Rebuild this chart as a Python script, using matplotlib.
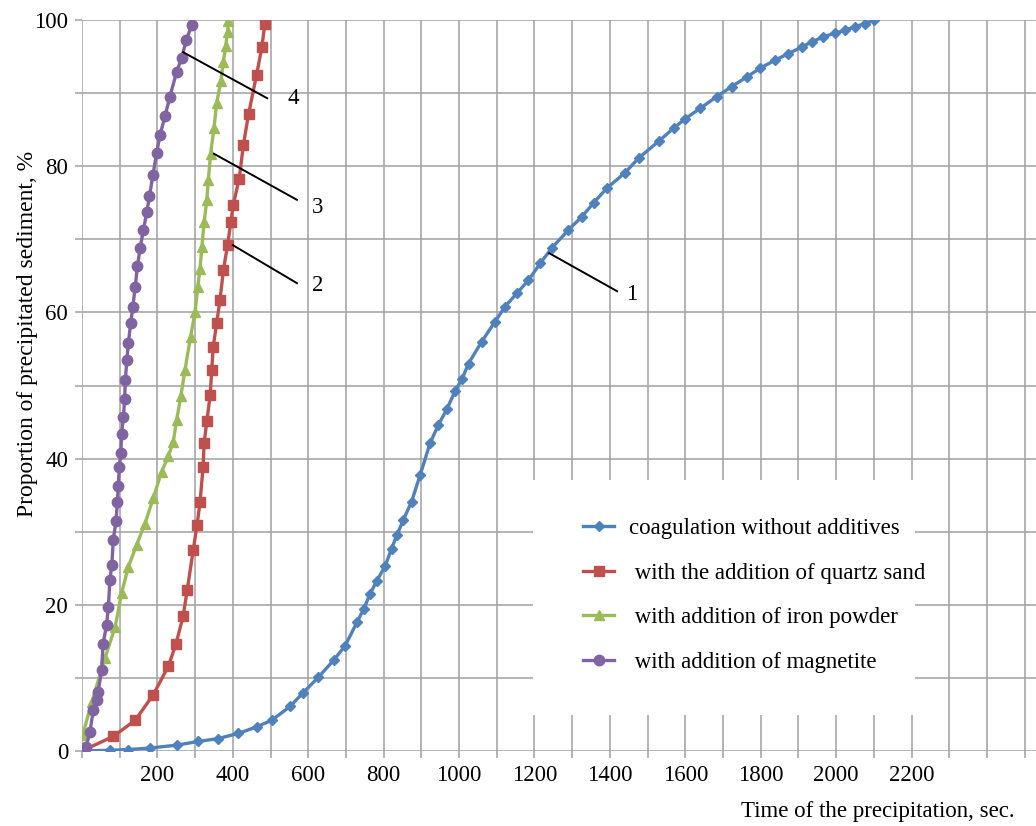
import matplotlib
matplotlib.use('Agg')
import matplotlib.pyplot as plt
from matplotlib.patches import Rectangle

plt.rcParams['font.family'] = ['Liberation Serif', 'DejaVu Serif']

# 1 - coagulation without additives
t_blue = [0, 74, 123, 180, 251, 308, 361, 414, 463, 503, 552, 587, 627, 667, 698, 729, 747,
          764, 782, 804, 821, 835, 852, 874, 897, 923, 945, 968, 990, 1008, 1025, 1060, 1095,
          1122, 1153, 1184, 1215, 1246, 1290, 1326, 1357, 1392, 1440, 1476, 1529, 1569, 1600,
          1639, 1683, 1723, 1763, 1798, 1838, 1873, 1909, 1935, 1966, 1997, 2024, 2050, 2077, 2101]
p_blue = [0, 0.1, 0.2, 0.4, 0.8, 1.3, 1.7, 2.4, 3.3, 4.2, 6.1, 8.0, 10.1, 12.4, 14.4, 17.6, 19.4,
          21.5, 23.3, 25.3, 27.7, 29.5, 31.6, 34.1, 37.8, 42.1, 44.6, 46.8, 49.3, 50.9, 53.0, 56.0, 58.7,
          60.8, 62.6, 64.4, 66.7, 68.8, 71.3, 73.1, 75.0, 77.0, 79.1, 81.1, 83.4, 85.2, 86.5,
          87.9, 89.5, 90.9, 92.2, 93.4, 94.5, 95.4, 96.3, 97.0, 97.7, 98.2, 98.6, 99.1, 99.5, 100]

# 2 - quartz sand
t_red = [0, 83, 141, 189, 229, 249, 268, 279, 295, 305, 313, 321, 324, 331, 340, 344, 348, 357,
         366, 375, 386, 395, 401, 417, 428, 442, 463, 477, 485]
p_red = [0, 2.0, 4.2, 7.7, 11.6, 14.6, 18.4, 22.0, 27.5, 30.9, 34.0, 38.8, 42.2, 45.1, 48.7, 52.1,
         55.3, 58.5, 61.7, 65.8, 69.2, 72.4, 74.7, 78.3, 82.9, 87.2, 92.5, 96.3, 99.5]

# 3 - iron powder
t_green = [2, 26, 61, 88, 105, 123, 145, 167, 189, 211, 229, 242, 251, 262, 273, 288, 300, 307,
           313, 318, 324, 331, 335, 341, 350, 357, 368, 375, 381, 386, 388]
p_green = [2.2, 6.7, 12.7, 17.0, 21.6, 25.2, 28.2, 31.1, 34.6, 38.2, 40.3, 42.3, 45.3, 48.5, 52.1,
           56.7, 60.1, 63.5, 66.0, 69.0, 72.4, 75.4, 78.1, 81.7, 85.2, 88.6, 91.6, 94.3, 96.4, 98.4, 99.8]

# 4 - magnetite
t_purple = [0, 11, 21, 30, 39, 43, 52, 56, 65, 70, 74, 79, 83, 90, 94, 96, 99, 103, 105, 110,
            113, 115, 119, 123, 129, 135, 141, 147, 154, 163, 172, 179, 188, 198, 207, 220, 233,
            251, 264, 277, 291]
p_purple = [0, 0.6, 2.6, 5.6, 7.0, 8.1, 11.1, 14.7, 17.2, 19.7, 23.4, 25.4, 28.9, 31.4, 34.1, 36.2,
            38.8, 40.8, 43.4, 45.7, 48.1, 50.8, 53.5, 55.8, 58.5, 60.8, 63.5, 66.3, 68.8, 71.3,
            73.8, 75.9, 78.8, 81.8, 84.3, 86.8, 89.5, 92.9, 94.8, 97.3, 99.3]

labels = ['coagulation without additives', ' with the addition of quartz sand',
          ' with addition of iron powder', ' with addition of magnetite']

x_ticks = list(range(0, 2600, 100))
x_tick_labels = ['' if (t == 0 or t % 200 or t > 2200) else str(t) for t in x_ticks]
y_ticks = list(range(0, 101, 10))
y_tick_labels = [str(t) if t % 20 == 0 else '' for t in y_ticks]

# curve number callouts: (start x, start y, end x, end y, label x, label y, text)
callouts = [(268, 95.6, 491, 89.3, 560, 89.3, '4'),
            (350, 81.7, 570, 75.4, 626, 74.3, '3'),
            (400, 69.2, 570, 64.0, 626, 63.7, '2'),
            (1239, 68.1, 1419, 62.9, 1459, 62.5, '1')]

fs = 16.5

fig = plt.figure(figsize=(10.36, 8.26), dpi=100)
ax = fig.add_axes([82 / 1036, 75 / 826, 1 - 82 / 1036, 731 / 826])

grid_col = '#a0a0a0'
ax.set_axisbelow(True)
ax.grid(True, color=grid_col, linewidth=1.1)
for s in ax.spines.values():
    s.set_visible(False)

# white box behind the legend that hides the grid
ax.add_patch(Rectangle(((533 - 82) / 954, (751 - 715) / 731), (915 - 533) / 954, (715 - 480) / 731,
                       transform=ax.transAxes, facecolor='white', edgecolor='none', zorder=1))

lw = 2.4
ax.plot(t_blue, p_blue, color='#4F81BD', lw=lw, marker='D', ms=5, label=labels[0], zorder=3)
ax.plot(t_red, p_red, color='#C0504D', lw=lw, marker='s', ms=7.5, label=labels[1], zorder=3)
ax.plot(t_green, p_green, color='#9BBB59', lw=lw, marker='^', ms=7, label=labels[2], zorder=3)
ax.plot(t_purple, p_purple, color='#8064A2', lw=lw, marker='o', ms=7.5, label=labels[3], zorder=3)

for x0, y0, x1, y1, xt, yt, txt in callouts:
    ax.plot([x0, x1], [y0, y1], color='black', lw=1.4, zorder=4)
    ax.text(xt, yt, txt, fontsize=fs, ha='center', va='center', zorder=4)

ax.set_xlim(0, 2530)
ax.set_ylim(0, 100)
ax.set_xticks(x_ticks)
ax.set_xticklabels(x_tick_labels)
ax.set_yticks(y_ticks)
ax.set_yticklabels(y_tick_labels)
ax.tick_params(axis='both', length=5, width=1.1, color=grid_col, labelsize=fs, pad=5)

ax.set_xlabel('Time of the precipitation, sec.', fontsize=fs, ha='right', va='center')
ax.xaxis.set_label_coords((1015 - 82) / 954, (751 - 812) / 731)
ax.set_ylabel('Proportion of precipitated sediment, %', fontsize=17, va='center')
ax.yaxis.set_label_coords((28 - 82) / 954, (751 - 334) / 731)

ax.legend(loc='upper left', bbox_to_anchor=((574 - 82) / 954, (751 - 509) / 731),
          frameon=False, fontsize=fs, handlelength=1.35, handletextpad=0.65,
          labelspacing=1.03, borderaxespad=0)

fig.savefig('out.png', dpi=100)
